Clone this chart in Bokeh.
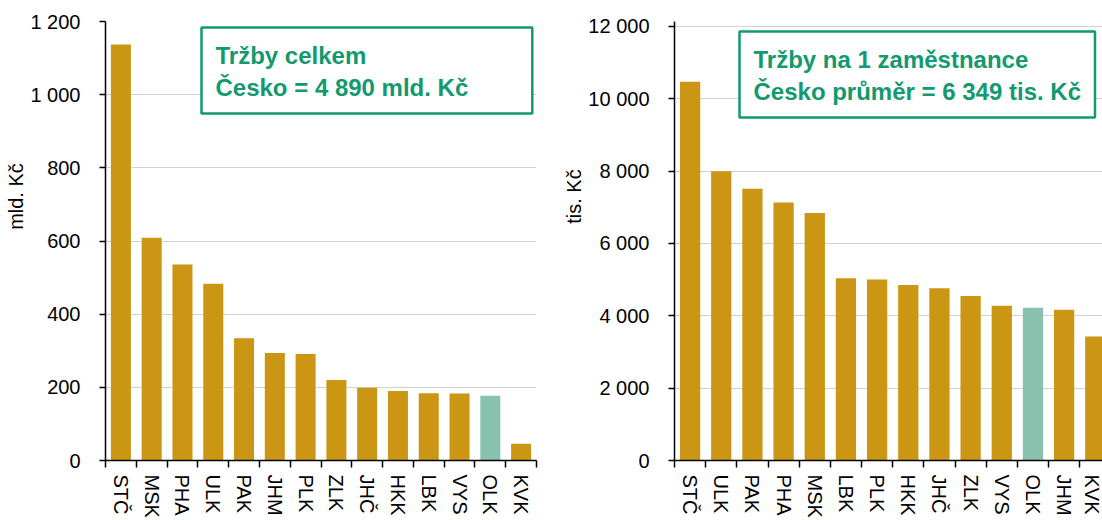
import math
from bokeh.plotting import figure
from bokeh.models import ColumnDataSource, Range1d, FixedTicker, Label
from bokeh.layouts import row
from bokeh.embed import file_html
from bokeh.resources import INLINE

# ---- data ----
regions_total = ["STČ", "MSK", "PHA", "ULK", "PAK", "JHM", "PLK", "ZLK", "JHČ", "HKK", "LBK", "VYS", "OLK", "KVK"]
sales_total = [1137, 609, 536, 483, 334, 294, 291, 220, 199, 190, 184, 183, 177, 46]

regions_emp = ["STČ", "ULK", "PAK", "PHA", "MSK", "LBK", "PLK", "HKK", "JHČ", "ZLK", "VYS", "OLK", "JHM", "KVK"]
sales_emp = [10470, 8000, 7515, 7135, 6845, 5040, 5005, 4850, 4765, 4550, 4280, 4225, 4170, 3425]

ticks_total = [0, 200, 400, 600, 800, 1000, 1200]
tick_labels_total = ["0", "200", "400", "600", "800", "1 000", "1 200"]
ticks_emp = [0, 2000, 4000, 6000, 8000, 10000, 12000]
tick_labels_emp = ["0", "2 000", "4 000", "6 000", "8 000", "10 000", "12 000"]

highlight = "OLK"
title_total = "Tržby celkem\nČesko = 4 890 mld. Kč"
title_emp = "Tržby na 1 zaměstnance\nČesko průměr = 6 349 tis. Kč"
ylabel_total = "mld. Kč"
ylabel_emp = "tis. Kč"

GOLD = "#CA9614"
TEAL = "#88C2AE"
GREEN = "#12996F"
FONT = "Liberation Sans"
NBSP = "\u00a0"


def make_chart(regions, values, ticks, tick_labels, y_start, y_end, xmax, width, height,
               bl, br, bt, bb, ylabel, title, box_x, box_y, pad_r):
    n = len(regions)
    xs = [i + 0.5 for i in range(n)]
    colors = [TEAL if r == highlight else GOLD for r in regions]
    src = ColumnDataSource(dict(x=xs, top=values, color=colors, name=regions))
    p = figure(width=width, height=height, output_backend="svg", toolbar_location=None,
               x_range=Range1d(0, xmax), y_range=Range1d(y_start, y_end),
               min_border_left=bl, min_border_right=br, min_border_top=bt, min_border_bottom=bb)
    p.outline_line_color = None
    p.background_fill_color = "white"
    p.border_fill_color = "white"
    p.vbar(x="x", top="top", bottom=0, width=0.65, source=src, fill_color="color", line_color=None)

    # y axis
    p.yaxis.ticker = FixedTicker(ticks=ticks)
    p.yaxis.major_label_overrides = {t: l for t, l in zip(ticks, tick_labels)}
    p.yaxis.major_label_text_font = FONT
    p.yaxis.major_label_text_font_size = "20px"
    p.yaxis.major_label_text_color = "black"
    p.yaxis.major_tick_in = 0
    p.yaxis.major_tick_out = 6
    p.yaxis.minor_tick_line_color = None
    p.yaxis.major_label_standoff = 19
    p.yaxis.axis_line_width = 1.5
    p.yaxis.major_tick_line_width = 1.5
    p.yaxis.axis_line_color = "black"
    p.yaxis.major_tick_line_color = "black"
    p.yaxis.axis_label = NBSP * 16 + ylabel
    p.yaxis.axis_label_text_font = FONT
    p.yaxis.axis_label_text_font_size = "20px"
    p.yaxis.axis_label_text_font_style = "normal"
    p.yaxis.axis_label_text_color = "black"
    p.yaxis.axis_label_standoff = 0

    # x axis: labels at category centres, tick marks at category boundaries
    p.xaxis.ticker = FixedTicker(ticks=xs, minor_ticks=list(range(n + 1)))
    p.xaxis.major_label_overrides = {x: r for x, r in zip(xs, regions)}
    p.xaxis.major_label_orientation = "vertical"
    p.xaxis.major_label_text_font = FONT
    p.xaxis.major_label_text_font_size = "20px"
    p.xaxis.major_label_text_color = "black"
    p.xaxis.major_label_standoff = 7
    p.xaxis.major_tick_in = 0
    p.xaxis.major_tick_out = 7
    p.xaxis.major_tick_line_color = None
    p.xaxis.minor_tick_in = 0
    p.xaxis.minor_tick_out = 7
    p.xaxis.minor_tick_line_color = "black"
    p.xaxis.minor_tick_line_width = 1.5
    p.xaxis.axis_line_width = 1.5
    p.xaxis.axis_line_color = "black"

    p.xgrid.grid_line_color = None
    p.ygrid.grid_line_color = "#D3D3D3"
    p.ygrid.grid_line_width = 1.2

    p.add_layout(Label(x=box_x, y=box_y, text=title, text_align="left", text_baseline="top",
                       text_font=FONT, text_font_size="24px", text_font_style="bold",
                       text_color=GREEN, text_line_height=1.15,
                       border_line_color=GREEN, border_line_width=2.5,
                       background_fill_color="white",
                       padding=dict(left=14, right=pad_r, top=15, bottom=13)))
    return p


# common frame: y 21..462 in page pixels
# left chart: frame x 105..536, zero line at 462, 1200 at 21
px_per_unit_l = 441 / 1200
p1 = make_chart(regions_total, sales_total, ticks_total, tick_labels_total,
                0, 1200, 14,
                560, 520, 105, 24, 21, 58, ylabel_total, title_total,
                (201 - 105) / 30.786, (462 - 27) / px_per_unit_l, 64)
# right chart: frame x 674..1102, zero line at 462, 12000 at 26
px_per_unit_r = 436 / 12000
p2 = make_chart(regions_emp, sales_emp, ticks_emp, tick_labels_emp,
                0, 441 / px_per_unit_r, 428 / 31.17,
                542, 520, 114, 0, 21, 58, ylabel_emp, title_emp,
                (739 - 674) / 31.17, (462 - 31) / px_per_unit_r, 14)

layout = row(p1, p2)
open("out.html", "w").write(file_html(layout, INLINE))
